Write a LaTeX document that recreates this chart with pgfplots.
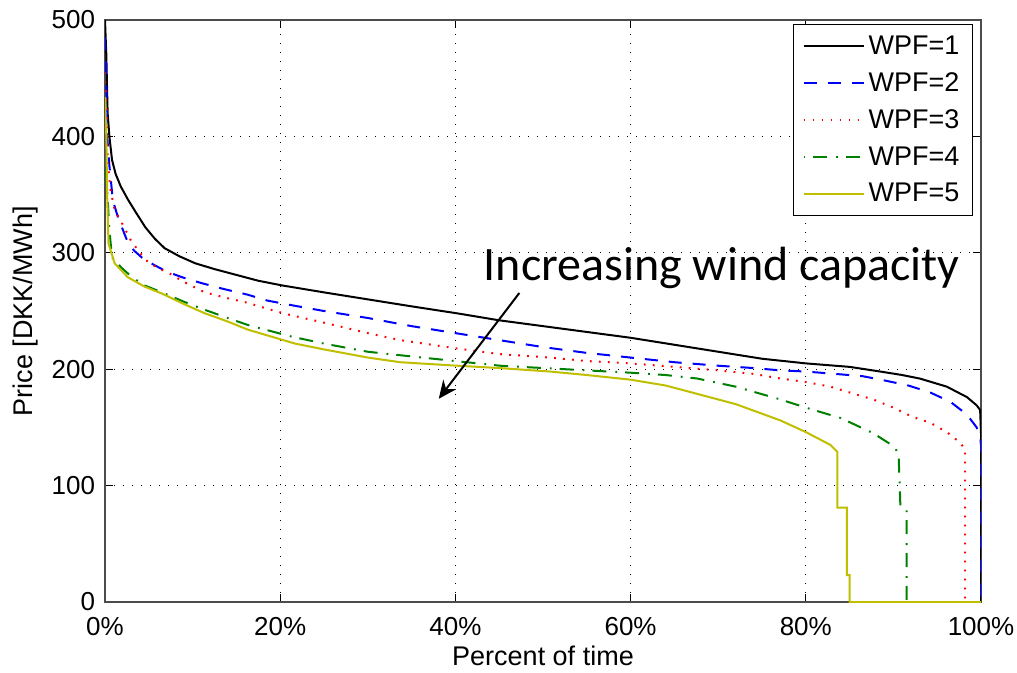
\documentclass[border=0pt]{standalone}
\usepackage{pgfplots}
\pgfplotsset{compat=1.18}
\usepackage{fontspec}
\setmainfont{Liberation Sans}
\newfontfamily\calibri{Carlito}
\usetikzlibrary{arrows.meta}
\definecolor{wyel}{rgb}{0.75,0.75,0}
\definecolor{wgreen}{rgb}{0,0.5,0}
\begin{document}
\begin{tikzpicture}
\begin{axis}[
  scale only axis, width=438pt, height=291pt,
  xmin=0, xmax=100, ymin=0, ymax=500,
  xtick={0,20,40,60,80,100},
  xticklabels={0\%,20\%,40\%,60\%,80\%,100\%},
  ytick={0,100,200,300,400,500},
  /pgf/number format/assume math mode=true,
  tick label style={font=\fontsize{13}{15}\selectfont, inner sep=0.5pt},
  xticklabel style={yshift=-6.8pt},
  yticklabel style={xshift=-4.3pt},
  tick align=inside, major tick length=4pt,
  tick style={black, line width=0.5pt},
  axis line style={gray!60!black, line width=0.6pt},
  grid=major,
  major grid style={black, line width=0.5pt, dash pattern=on 0.6pt off 3.9pt},
  xlabel={Percent of time}, ylabel={Price [DKK/MWh]},
  every axis x label/.style={at={(axis description cs:0.5,-0.0928)},anchor=center,font=\fontsize{13.5}{16}\selectfont},
  every axis y label/.style={at={(axis description cs:-0.0913,0.5)},rotate=90,anchor=center,font=\fontsize{13.5}{16}\selectfont},
  legend style={at={(0.9909,0.9931)}, anchor=north east, draw=black, fill=white,
    font=\fontsize{13.5}{16}\selectfont, row sep=3.6pt, inner xsep=4.5pt, inner ysep=3.5pt,
    cells={anchor=west}, line width=0.6pt},
  legend image code/.code={\draw[#1] (0pt,0pt) -- (30pt,0pt);},
  clip=true,
]
\addplot[black, line width=1pt] coordinates {
(0,500)(0.15,470)(0.3,420)(0.5,400)(0.8,380)(1.2,368)(1.8,357)(2.6,346)(3.5,335)(4.6,322)(5.7,312)(6.8,304)(8.5,297)(10.3,291)(12.5,286)(15,281)(17.5,276)(20.2,272)(25,266)(30,260)(35,254)(40.2,248)(45,242)(50,237)(55,232)(60,227)(65,221)(70,215)(75,209)(80,205)(85,202)(88.5,198)(91,195)(93,192)(96.1,185)(98.4,176)(99.5,169)(99.9,165)(100,145)(100,0)
};
\addlegendentry{WPF=1}
\addplot[blue, line width=1pt, dash pattern=on 6.5pt off 5.5pt] coordinates {
(0,485)(0.15,450)(0.25,400)(0.5,375)(0.9,345)(1.5,330)(2.5,311)(3.3,302)(4.2,296)(5.5,290)(7,284)(8.8,279)(11,274)(13.5,269)(16.3,264)(18.5,259)(21.3,255)(25,250)(30,244)(35,237)(40,231)(45,225)(50,219)(55,214)(60,210)(65,206)(70,203)(74,201)(77.1,199)(80,198)(83.3,196)(86.5,194)(89.2,190)(91.7,186)(94.2,180)(96.5,172)(98.4,161)(99.5,150)(99.9,142)(100,135)(100,0)
};
\addlegendentry{WPF=2}
\addplot[red, line width=1pt, dash pattern=on 0.9pt off 3.6pt] coordinates {
(0,455)(0.2,420)(0.3,380)(0.6,355)(1.1,337)(1.9,326)(3,310)(4.6,294)(6,287)(7.2,283)(9,275)(11.4,266)(14,261)(16.3,257)(18.5,252)(20.9,247)(25,240)(30,231)(33.7,225)(40,218)(45,213)(50.8,210)(55,207)(60,205)(65,202)(70,199)(74,196)(77.1,192)(80,189)(82.8,185)(85,180)(87.7,174)(90,167)(92.2,159)(94.2,154)(96.1,146)(97.6,137)(98.2,131)(98.2,0)(100,0)
};
\addlegendentry{WPF=3}
\addplot[wgreen, line width=1pt, dash pattern=on 0.9pt off 4pt on 7pt off 4.5pt] coordinates {
(0,380)(0.2,360)(0.5,320)(0.8,296)(1.9,287)(3.1,279)(4.5,272)(6.5,266)(9,258)(11.4,251)(14,244)(16.3,238)(18.8,233)(21.3,228)(25,222)(30,215)(33.7,212)(40,207)(45.1,203)(50,201)(55,199)(60,197)(64,195)(67.6,192)(72,185)(77.1,174)(80,167)(84,158)(87.7,145)(90.2,133)(90.6,125)(90.8,82)(91.3,79)(91.5,79)(91.5,0)(100,0)
};
\addlegendentry{WPF=4}
\addplot[wyel, line width=1pt] coordinates {
(0,434)(0.15,400)(0.25,348)(0.4,308)(1.1,291)(2.6,279)(4.5,271)(6.5,265)(9,256)(11.4,248)(14,241)(16.3,234)(19,228)(21.7,222)(25,217)(30,210)(33.7,206)(40.2,203)(45,201)(50.8,198)(55,195)(60,191)(64,186)(68,178)(72,170)(77.1,156)(80,146)(82.8,135)(83.6,129)(83.6,81)(84.7,81)(84.7,23)(85,23)(85,0)(100,0)
};
\addlegendentry{WPF=5}
\node[anchor=base, font=\calibri\fontsize{24}{28}\selectfont, inner sep=0pt] at (axis cs:70.4,276.6) {Increasing wind capacity};
\draw[black, line width=1pt, -{Stealth[length=9pt,width=8pt]}] (axis cs:47.3,265.5) -- (axis cs:38.1,174.6);
\end{axis}
\path (-52.5pt,-33.5pt) rectangle (456pt,301pt);
\end{tikzpicture}
\end{document}
